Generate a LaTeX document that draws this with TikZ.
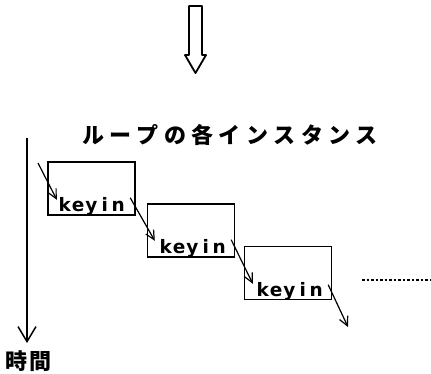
\documentclass[tikz,border=0pt]{standalone}
\usepackage{fontspec}
\usetikzlibrary{arrows.meta}
\newfontfamily\cjk{Noto Sans CJK JP}
\newfontfamily\keyfont{DejaVu Sans}
\ExplSyntaxOn
\NewDocumentCommand\spacedtext{mm}{\tl_map_inline:nn{#2}{\makebox[#1]{##1}}}
\ExplSyntaxOff
\tikzset{
  inst/.style={draw, line width=1.5pt, minimum width=87pt, minimum height=53pt, inner sep=0pt},
  keytext/.style={font=\keyfont\bfseries\fontsize{18.5}{18.5}\selectfont, inner sep=0pt, anchor=base},
  flow/.style={line width=1.2pt, -{Straight Barb[length=9pt,width=9pt,line width=1.2pt]}},
  jp/.style={font=\cjk\bfseries\fontsize{22}{22}\selectfont, inner sep=0pt},
}
\begin{document}
\begin{tikzpicture}[x=1pt,y=-1pt]
\useasboundingbox (0,0) rectangle (431,373);
% block arrow
\draw[line width=1.8pt, line join=round] (189,6) -- (202,6) -- (202,55) -- (206,55) -- (195.5,73) -- (185,55) -- (189,55) -- cycle;
% title
\node[jp] (title) at (230,135) {\spacedtext{27.4pt}{ループの各インスタンス}};
% time axis
\coordinate (ttop) at (27,138);
\coordinate (tbot) at (27,343);
\draw[line width=1.5pt, -{Straight Barb[length=15pt,width=18pt,line width=1.5pt]}] (ttop) -- (tbot);
\node[jp] (jikan) at (28.5,361) {\spacedtext{24pt}{時間}};
% instance boxes
\node[inst] (b1) at (91.5,188.5) {};
\node[inst] (b2) at (191,230.5) {};
\node[inst] (b3) at (288,273) {};
\node[keytext] (k1) at (91.5,211) {\spacedtext{13.4pt}{keyin}};
\node[keytext] (k2) at (192.5,253) {\spacedtext{13.4pt}{keyin}};
\node[keytext] (k3) at (289.5,296) {\spacedtext{13.4pt}{keyin}};
% flow arrows
\coordinate (s0) at (38,163);
\coordinate (e4) at (348,327);
\draw[flow] (s0) -- ([xshift=-1pt,yshift=-3pt]k1.north west);
\draw[flow] ([xshift=5pt,yshift=-1pt]k1.north east) -- ([xshift=-4pt,yshift=-2pt]k2.north west);
\draw[flow] ([xshift=5pt,yshift=-1pt]k2.north east) -- ([xshift=-3pt,yshift=-2pt]k3.north west);
\draw[flow] ([xshift=5pt,yshift=-3pt]k3.north east) -- (e4);
% continuation
\coordinate (d1) at (362,280);
\coordinate (d2) at (431,280);
\draw[line width=2.2pt, dash pattern=on 2.5pt off 2pt] (d1) -- (d2);
\end{tikzpicture}
\end{document}
